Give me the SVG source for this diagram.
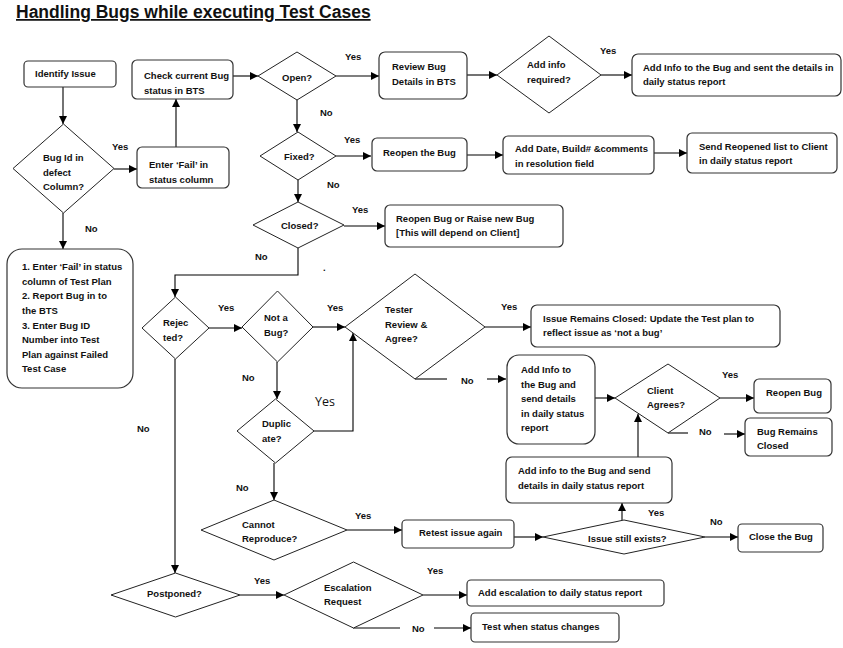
<svg xmlns="http://www.w3.org/2000/svg" width="843" height="648" viewBox="0 0 843 648">
<style>
text{font-family:"Liberation Sans",Arial,sans-serif;font-size:9.5px;font-weight:bold;fill:#111}
.title{font-size:17.5px;font-weight:bold;text-decoration:underline}
.lbl{font-size:9.5px}
.box{fill:#fff;stroke:#333;stroke-width:1.2}
.dia{fill:#fff;stroke:#222;stroke-width:1}
.c{fill:none;stroke:#000;stroke-width:1.1}
.ca{fill:none;stroke:#000;stroke-width:1.1;marker-end:url(#ah)}
</style>
<defs>
<marker id="ah" viewBox="0 0 10 10" refX="10" refY="5" markerWidth="9" markerHeight="8" orient="auto" markerUnits="userSpaceOnUse"><path d="M0,0 L10,5 L0,10 z" fill="#000"/></marker>
</defs>
<rect width="843" height="648" fill="#fff"/>
<text class="title" x="16" y="18">Handling Bugs while executing Test Cases</text>

<g id="connectors">
<path class="ca" d="M63,87 V124"/>
<path class="ca" d="M114,169 H137"/>
<path class="ca" d="M176,147 V99"/>
<path class="ca" d="M233,76 H258"/>
<path class="ca" d="M336,76 H379"/>
<path class="ca" d="M297,100 V132"/>
<path class="ca" d="M467,75 H497"/>
<path class="ca" d="M601,75 H632"/>
<path class="ca" d="M336,156 H371"/>
<path class="ca" d="M467,155 H503"/>
<path class="ca" d="M654,153 H687"/>
<path class="ca" d="M298,180 V202"/>
<path class="ca" d="M344,226 H385"/>
<path class="ca" d="M298,248 V275 H175 V297"/>
<path class="ca" d="M63,213 V249"/>
<path class="ca" d="M209,328 H242"/>
<path class="ca" d="M313,327 H345"/>
<path class="ca" d="M277,362 V399"/>
<path class="ca" d="M314,431 H353 V333"/>
<path class="ca" d="M485,327 H531"/>
<path class="c" d="M415,379 H447"/>
<path class="ca" d="M487,379 H506"/>
<path class="ca" d="M595,398 H615"/>
<path class="ca" d="M720,398 H754"/>
<path class="c" d="M668,433 H688"/>
<path class="ca" d="M724,434 H745"/>
<path class="ca" d="M638,457 V414"/>
<path class="ca" d="M274,463 V500"/>
<path class="ca" d="M347,530 H402"/>
<path class="ca" d="M514,537 H543"/>
<path class="ca" d="M622,520 V503"/>
<path class="ca" d="M705,537 H738"/>
<path class="ca" d="M175,359 V573"/>
<path class="ca" d="M240,595 H284"/>
<path class="ca" d="M423,595 H467"/>
<path class="c" d="M353,628 H400"/>
<path class="ca" d="M434,628 H471"/>
</g>

<g id="labels">
<text class="lbl" x="112" y="150">Yes</text>
<text class="lbl" x="85" y="232">No</text>
<text class="lbl" x="345" y="60">Yes</text>
<text class="lbl" x="320" y="116">No</text>
<text class="lbl" x="344" y="143">Yes</text>
<text class="lbl" x="327" y="188">No</text>
<text class="lbl" x="352" y="213">Yes</text>
<text class="lbl" x="600" y="54">Yes</text>
<text class="lbl" x="255" y="260">No</text>
<text class="lbl" x="323" y="271">.</text>
<text class="lbl" x="218" y="311">Yes</text>
<text class="lbl" x="327" y="311">Yes</text>
<text class="lbl" x="501" y="310">Yes</text>
<text class="lbl" x="242" y="381">No</text>
<text class="lbl" x="461" y="384">No</text>
<text x="315" y="406" style="font-weight:normal;font-size:12.5px;font-family:'Open Sans','Liberation Sans',sans-serif">Yes</text>
<text class="lbl" x="137" y="432">No</text>
<text class="lbl" x="722" y="378">Yes</text>
<text class="lbl" x="699" y="435">No</text>
<text class="lbl" x="236" y="491">No</text>
<text class="lbl" x="355" y="519">Yes</text>
<text class="lbl" x="648" y="516">Yes</text>
<text class="lbl" x="710" y="525">No</text>
<text class="lbl" x="254" y="584">Yes</text>
<text class="lbl" x="427" y="574">Yes</text>
<text class="lbl" x="412" y="632">No</text>
</g>

<g id="identify-issue">
<rect class="box" x="24" y="61" width="92" height="26" rx="4"/>
<text x="35" y="77">Identify Issue</text>
</g>
<g id="bug-id-decision">
<polygon class="dia" points="63.5,124 114,168.5 63.5,213 13,168.5"/>
<text x="43" y="161">Bug Id in</text>
<text x="43" y="176">defect</text>
<text x="43" y="190">Column?</text>
</g>
<g id="enter-fail">
<rect class="box" x="137" y="147" width="92" height="41" rx="5"/>
<text x="149" y="168">Enter ‘Fail’ in</text>
<text x="149" y="183">status column</text>
</g>
<g id="check-status">
<rect class="box" x="132" y="60" width="101" height="39" rx="5"/>
<text x="144" y="79">Check current Bug</text>
<text x="144" y="94">status in BTS</text>
</g>
<g id="open-decision">
<polygon class="dia" points="297,52 336,76 297,100 258,76"/>
<text x="282" y="81">Open?</text>
</g>
<g id="review-bug">
<rect class="box" x="379" y="52" width="88" height="47" rx="6"/>
<text x="392" y="70">Review Bug</text>
<text x="392" y="85">Details in BTS</text>
</g>
<g id="add-info-required">
<polygon class="dia" points="549,36 601,75 549,113 497,75"/>
<text x="527" y="68">Add info</text>
<text x="527" y="83">required?</text>
</g>
<g id="add-info-sent">
<rect class="box" x="632" y="54" width="209" height="42" rx="6"/>
<text x="643" y="71">Add Info to the Bug and sent the details in</text>
<text x="643" y="85">daily status report</text>
</g>
<g id="fixed-decision">
<polygon class="dia" points="298,132 336,156 298,180 260,156"/>
<text x="284" y="160">Fixed?</text>
</g>
<g id="reopen-the-bug">
<rect class="box" x="372" y="138" width="95" height="33" rx="5"/>
<text x="383" y="156">Reopen the Bug</text>
</g>
<g id="add-date-build">
<rect class="box" x="503" y="136" width="151" height="38" rx="5"/>
<text x="515" y="152">Add Date, Build# &amp;comments</text>
<text x="515" y="167">in resolution field</text>
</g>
<g id="send-reopened">
<rect class="box" x="687" y="133" width="150" height="40" rx="5"/>
<text x="699" y="150">Send Reopened list to Client</text>
<text x="699" y="164">in daily status report</text>
</g>
<g id="closed-decision">
<polygon class="dia" points="298,202 344,225 298,248 253,225"/>
<text x="281" y="229">Closed?</text>
</g>
<g id="reopen-or-raise">
<rect class="box" x="385" y="205" width="178" height="42" rx="5"/>
<text x="396" y="222">Reopen Bug or Raise new Bug</text>
<text x="396" y="236">[This will depend on Client]</text>
</g>
<g id="fail-steps">
<rect class="box" x="7" y="249" width="126" height="139" rx="15"/>
<text x="22" y="270">1. Enter ‘Fail’ in status</text>
<text x="22" y="285">column of Test Plan</text>
<text x="22" y="299">2. Report Bug in to</text>
<text x="22" y="314">the BTS</text>
<text x="22" y="329">3. Enter Bug ID</text>
<text x="22" y="343">Number into Test</text>
<text x="22" y="358">Plan against Failed</text>
<text x="22" y="372">Test Case</text>
</g>
<g id="rejected-decision">
<polygon class="dia" points="175.5,297 209,328 175.5,359 142,328"/>
<text x="163" y="326">Rejec</text>
<text x="163" y="341">ted?</text>
</g>
<g id="not-a-bug-decision">
<polygon class="dia" points="277.5,291 313,327 277.5,362 242,327"/>
<text x="264" y="321">Not a</text>
<text x="264" y="336">Bug?</text>
</g>
<g id="tester-review-decision">
<polygon class="dia" points="415,274 485,327 415,379 345,327"/>
<text x="385" y="313">Tester</text>
<text x="385" y="328">Review &amp;</text>
<text x="385" y="342">Agree?</text>
</g>
<g id="issue-remains-closed">
<rect class="box" x="531" y="305" width="249" height="42" rx="6"/>
<text x="543" y="322">Issue Remains Closed: Update the Test plan to</text>
<text x="543" y="336">reflect issue as ‘not a bug’</text>
</g>
<g id="add-info-tall">
<rect class="box" x="507" y="355" width="88" height="89" rx="12"/>
<text x="521" y="373">Add Info to</text>
<text x="521" y="388">the Bug and</text>
<text x="521" y="402">send details</text>
<text x="521" y="417">in daily status</text>
<text x="521" y="431">report</text>
</g>
<g id="client-agrees-decision">
<polygon class="dia" points="668,364 720,398 668,433 615,398"/>
<text x="647" y="394">Client</text>
<text x="647" y="408">Agrees?</text>
</g>
<g id="reopen-bug">
<rect class="box" x="754" y="379" width="77" height="34" rx="5"/>
<text x="766" y="396">Reopen Bug</text>
</g>
<g id="bug-remains-closed">
<rect class="box" x="745" y="418" width="87" height="38" rx="5"/>
<text x="757" y="435">Bug Remains</text>
<text x="757" y="449">Closed</text>
</g>
<g id="duplicate-decision">
<polygon class="dia" points="275.5,399 314,431 275.5,463 237,431"/>
<text x="262" y="427">Duplic</text>
<text x="262" y="442">ate?</text>
</g>
<g id="add-info-send">
<rect class="box" x="506" y="457" width="166" height="46" rx="6"/>
<text x="518" y="474">Add info to the Bug and send</text>
<text x="518" y="489">details in daily status report</text>
</g>
<g id="cannot-reproduce-decision">
<polygon class="dia" points="274,500 347,530 274,560 201,530"/>
<text x="242" y="528">Cannot</text>
<text x="242" y="542">Reproduce?</text>
</g>
<g id="retest">
<rect class="box" x="402" y="520" width="112" height="28" rx="4"/>
<text x="419" y="536">Retest issue again</text>
</g>
<g id="issue-still-exists-decision">
<polygon class="dia" points="624,520 705,537 624,554 543,537"/>
<text x="588" y="542">Issue still exists?</text>
</g>
<g id="close-the-bug">
<rect class="box" x="738" y="524" width="85" height="28" rx="4"/>
<text x="749" y="540">Close the Bug</text>
</g>
<g id="postponed-decision">
<polygon class="dia" points="175.5,573 240,595 175.5,617 111,595"/>
<text x="147" y="597">Postponed?</text>
</g>
<g id="escalation-decision">
<polygon class="dia" points="353.5,562 423,595 353.5,628 284,595"/>
<text x="324" y="591">Escalation</text>
<text x="324" y="605">Request</text>
</g>
<g id="add-escalation">
<rect class="box" x="467" y="580" width="197" height="26" rx="4"/>
<text x="478" y="596">Add escalation to daily status report</text>
</g>
<g id="test-when-status">
<rect class="box" x="471" y="613" width="148" height="29" rx="4"/>
<text x="482" y="630">Test when status changes</text>
</g>
</svg>
